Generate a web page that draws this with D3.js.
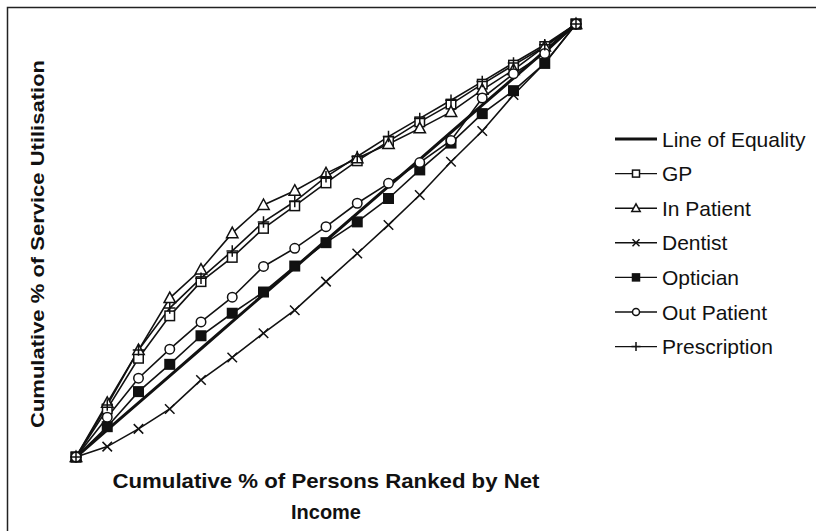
<!DOCTYPE html>
<html>
<head>
<meta charset="utf-8">
<script src="https://cdn.jsdelivr.net/npm/d3@7"></script>
<style>
  body { margin: 0; background: #fff; }
  svg { display: block; }
  .titulo { font-family: "Liberation Sans Narrow", "Liberation Sans", Arial, sans-serif; font-weight: bold; fill: #111; }
  .leyenda { font-family: "Liberation Sans", Arial, sans-serif; font-size: 21px; fill: #111; }
</style>
</head>
<body>
<div id="graf"></div>
<script>
// I. Data
persons = [0, 6.25, 12.5, 18.75, 25, 31.25, 37.5, 43.75, 50, 56.25, 62.5, 68.75, 75, 81.25, 87.5, 93.75, 100]

equality    = [0, 6.25, 12.5, 18.75, 25, 31.25, 37.5, 43.75, 50, 56.25, 62.5, 68.75, 75, 81.25, 87.5, 93.75, 100]
gp          = [0, 11.1, 22.8, 32.6, 40.5, 46.1, 52.8, 58.0, 63.3, 68.4, 72.9, 77.4, 81.5, 86.1, 90.5, 94.8, 100]
inPatient   = [0, 12.5, 24.7, 36.7, 43.3, 51.7, 58.2, 61.5, 65.5, 69.0, 72.3, 75.9, 79.7, 84.8, 89.4, 94.8, 100]
dentist     = [0, 2.4, 6.5, 11.1, 17.8, 23.0, 28.6, 33.9, 40.5, 47.0, 53.6, 60.5, 68.2, 75.3, 83.6, 91.0, 100]
optician    = [0, 7.0, 15.1, 21.4, 28.0, 33.2, 38.1, 44.1, 49.5, 54.3, 59.7, 66.3, 72.5, 79.3, 84.6, 90.9, 100]
outPatient  = [0, 9.2, 18.2, 24.9, 31.2, 36.9, 44.0, 48.2, 53.2, 58.6, 63.2, 68.0, 73.1, 82.9, 88.5, 93.2, 100]
prescription = [0, 12.0, 24.7, 34.4, 41.3, 47.6, 54.3, 59.0, 64.7, 69.4, 74.0, 78.2, 82.4, 86.7, 91.0, 95.2, 100]

seriesNames = ['Line of Equality', 'GP', 'In Patient', 'Dentist', 'Optician', 'Out Patient', 'Prescription']
seriesValues = [equality, gp, inPatient, dentist, optician, outPatient, prescription]
seriesMarks = ['none', 'square', 'triangle', 'x', 'filled', 'circle', 'plus']

// II. Configuration
ancho_total = 816
alto_total = 531
margins = { top: 24, left: 76, right: 240, bottom: 74 }
ancho = ancho_total - margins.left - margins.right
alto = alto_total - margins.top - margins.bottom

svg = d3.select('#graf').append('svg')
        .attr('width', ancho_total)
        .attr('height', alto_total)

svg.append('rect')
   .attr('x', 7.5).attr('y', 7.5)
   .attr('width', 900).attr('height', 600)
   .attr('fill', 'none')
   .attr('stroke', '#222')
   .attr('stroke-width', 1.5)

g = svg.append('g')
       .attr('transform', `translate(${margins.left}, ${margins.top})`)

x = d3.scaleLinear().domain([0, 100]).range([0, ancho])
y = d3.scaleLinear().domain([0, 100]).range([alto, 0])

// marker shapes
function marker(sel, type, s) {
  if (type === 'square' || type === 'filled') {
    sel.append('rect')
       .attr('x', -s / 2).attr('y', -s / 2)
       .attr('width', s).attr('height', s)
       .attr('fill', type === 'filled' ? '#111' : '#fff')
       .attr('stroke', '#111').attr('stroke-width', 1.5)
  } else if (type === 'triangle') {
    h = s * 1.05
    sel.append('path')
       .attr('d', `M0,${-h * 0.6}L${s * 0.6},${h * 0.45}L${-s * 0.6},${h * 0.45}Z`)
       .attr('fill', '#fff').attr('stroke', '#111').attr('stroke-width', 1.5)
  } else if (type === 'circle') {
    sel.append('circle')
       .attr('r', s / 2)
       .attr('fill', '#fff').attr('stroke', '#111').attr('stroke-width', 1.5)
  } else if (type === 'x') {
    r = s / 2
    sel.append('path')
       .attr('d', `M${-r},${-r}L${r},${r}M${-r},${r}L${r},${-r}`)
       .attr('stroke', '#111').attr('stroke-width', 1.5)
  } else if (type === 'plus') {
    r = s / 2 + 1
    sel.append('path')
       .attr('d', `M0,${-r}L0,${r}M${-r},0L${r},0`)
       .attr('stroke', '#111').attr('stroke-width', 1.5)
  }
}

line = d3.line()
         .x((d, i) => x(persons[i]))
         .y(d => y(d))

// III. Lines
seriesValues.forEach((vals, k) => {
  g.append('path')
   .datum(vals)
   .attr('d', line)
   .attr('fill', 'none')
   .attr('stroke', '#111')
   .attr('stroke-width', k === 0 ? 3 : 1.6)
})

// IV. Markers
seriesValues.forEach((vals, k) => {
  if (seriesMarks[k] === 'none') return
  g.selectAll(`.m${k}`)
   .data(vals)
   .enter()
   .append('g')
     .attr('class', `m${k}`)
     .attr('transform', (d, i) => `translate(${x(persons[i])}, ${y(d)})`)
     .each(function() { marker(d3.select(this), seriesMarks[k], 9.5) })
})

// V. Axis titles
svg.append('text')
   .attr('class', 'titulo')
   .attr('transform', 'translate(44, 244) rotate(-90)')
   .attr('text-anchor', 'middle')
   .style('font-family', '"Liberation Sans", Arial, sans-serif')
   .style('font-size', '18px')
   .attr('textLength', 368)
   .attr('lengthAdjust', 'spacingAndGlyphs')
   .text('Cumulative % of Service Utilisation')

svg.append('text')
   .attr('class', 'titulo')
   .attr('x', 326).attr('y', 488)
   .attr('text-anchor', 'middle')
   .style('font-size', '21px')
   .attr('textLength', 427)
   .attr('lengthAdjust', 'spacingAndGlyphs')
   .text('Cumulative % of Persons Ranked by Net')

svg.append('text')
   .attr('class', 'titulo')
   .attr('x', 326).attr('y', 519)
   .attr('text-anchor', 'middle')
   .style('font-size', '21px')
   .attr('textLength', 70)
   .attr('lengthAdjust', 'spacingAndGlyphs')
   .text('Income')

// VI. Legend
leyenda = svg.append('g')
             .attr('transform', 'translate(615, 139)')

seriesNames.forEach((name, k) => {
  item = leyenda.append('g')
                .attr('transform', `translate(0, ${k * 34.6})`)
  item.append('line')
      .attr('x1', 0).attr('x2', 42)
      .attr('stroke', '#111')
      .attr('stroke-width', k === 0 ? 3 : 1.4)
  item.append('g')
      .attr('transform', 'translate(21, 0)')
      .call(s => marker(s, seriesMarks[k], 7))
  item.append('text')
      .attr('class', 'leyenda')
      .attr('x', 47).attr('y', 7.5)
      .text(name)
})
</script>
</body>
</html>
